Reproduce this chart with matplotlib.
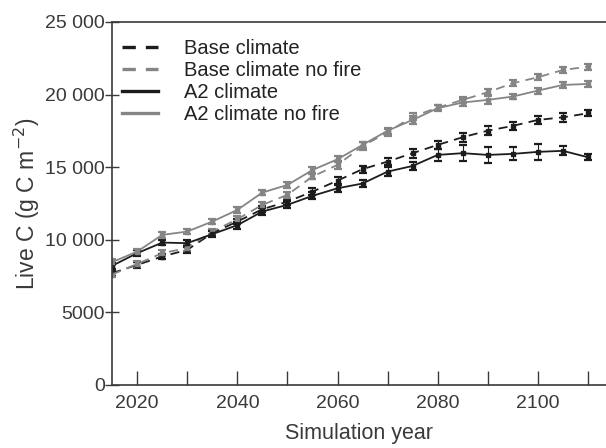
import numpy as np
import matplotlib.pyplot as plt
from matplotlib.lines import Line2D

plt.rcParams['font.family'] = ['Liberation Sans', 'DejaVu Sans']

years = np.arange(2015, 2111, 5)

base = [7700, 8260, 8840, 9300, 10450, 11250, 12100, 12620, 13310, 14070,
        14860, 15380, 15960, 16530, 17060, 17510, 17840, 18250, 18430, 18710]
base_err = [200, 200, 200, 200, 200, 200, 200, 200, 250, 250,
            250, 250, 300, 300, 300, 300, 300, 300, 300, 200]

base_nofire = [7600, 8330, 9070, 9430, 10560, 11410, 12400, 13090, 14350, 15150,
               16450, 17400, 18480, 19100, 19630, 20160, 20780, 21190, 21690, 21920]
base_nofire_err = [200, 200, 200, 200, 200, 200, 200, 200, 200, 250,
                   250, 250, 250, 200, 200, 200, 200, 200, 200, 200]

a2 = [8200, 9070, 9800, 9760, 10380, 11000, 11940, 12400, 13020, 13540,
      13870, 14690, 15080, 15840, 15960, 15840, 15910, 16050, 16120, 15680]
a2_err = [200, 200, 200, 200, 200, 250, 250, 250, 250, 250,
          250, 300, 300, 400, 550, 550, 450, 550, 300, 200]

a2_nofire = [8450, 9180, 10330, 10560, 11250, 12050, 13250, 13770, 14800, 15540,
             16530, 17510, 18250, 19060, 19450, 19630, 19860, 20270, 20660, 20730]
a2_nofire_err = [200, 200, 200, 200, 200, 200, 200, 200, 200, 200,
                 200, 200, 250, 200, 250, 250, 200, 200, 200, 200]

labels = ['Base climate', 'Base climate no fire', 'A2 climate', 'A2 climate no fire']
ytick_vals = [0, 5000, 10000, 15000, 20000, 25000]
ytick_labels = ['0', '5000', '10 000', '15 000', '20 000', '25 000']

black = '#1c1c1c'
grey = '#858585'
axis_col = '#3a3a3a'

fig = plt.figure(figsize=(6.06, 4.48), dpi=100)
ax = fig.add_axes([0.185, 0.141, 0.815, 0.81])

dash = (0, (5, 3.5))
series = [
    (base, base_err, black, dash),
    (base_nofire, base_nofire_err, grey, dash),
    (a2, a2_err, black, '-'),
    (a2_nofire, a2_nofire_err, grey, '-'),
]
for vals, err, col, ls in series:
    ax.errorbar(years, vals, yerr=err, color=col, ls=ls, lw=1.3,
                marker='s', ms=3, elinewidth=0.8, capsize=3, capthick=1.6)

ax.set_xlim(2015, 2113.6)
ax.set_ylim(0, 25000)
ax.set_xticks([2020, 2040, 2060, 2080, 2100])
ax.set_xticks(np.arange(2030, 2111, 20), minor=True)
ax.set_yticks(ytick_vals)
ax.set_yticklabels(ytick_labels)

ax.tick_params(axis='x', which='both', direction='in', length=10, width=1,
               colors=axis_col, labelsize=14, pad=7)
ax.tick_params(axis='y', direction='inout', length=10, width=1,
               colors=axis_col, labelsize=14, pad=0)
for side in ['left', 'bottom', 'top']:
    ax.spines[side].set_color(axis_col)
    ax.spines[side].set_linewidth(1.2)
ax.spines['right'].set_visible(False)

ax.set_xlabel('Simulation year', fontsize=15.5, color=axis_col, labelpad=8)
ax.set_ylabel('Live C (g C m$^{-2}$)', fontsize=16.5, color=axis_col)
ax.yaxis.set_label_coords(-0.142, 0.5)

handles = [
    Line2D([], [], color=black, lw=2.4, ls=(0, (4, 3))),
    Line2D([], [], color=grey, lw=2.4, ls=(0, (4, 3))),
    Line2D([], [], color=black, lw=2.4),
    Line2D([], [], color=grey, lw=2.4),
]
leg = ax.legend(handles, labels, loc='upper left', bbox_to_anchor=(0.0, 0.981),
                frameon=False, fontsize=14.5, handlelength=1.8, handletextpad=1.25,
                labelspacing=0.15, borderaxespad=0.1)
for t in leg.get_texts():
    t.set_color('#222222')

fig.savefig('out.png', dpi=100)
